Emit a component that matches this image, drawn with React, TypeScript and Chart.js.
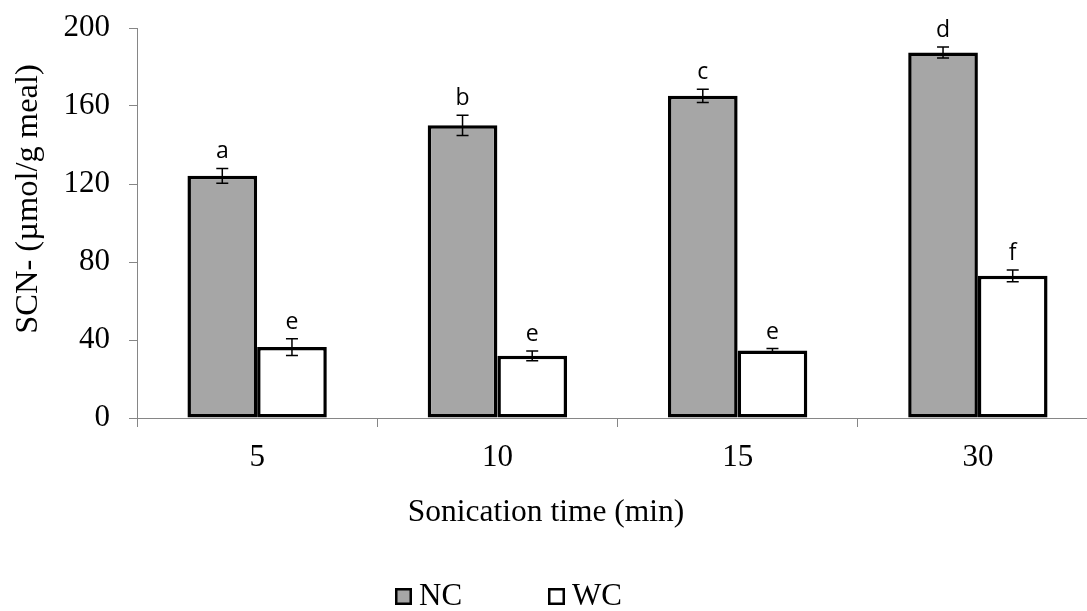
import React, { useEffect, useRef } from "react";
import { Chart, registerables } from "chart.js";

Chart.register(...registerables);

const categories = ["5", "10", "15", "30"];
const ncValues = [124.2, 150.1, 165.2, 187.4];
const ncErrors = [3.8, 5.2, 3.4, 2.8];
const wcValues = [36.4, 31.9, 34.6, 72.9];
const wcErrors = [4.3, 2.5, 1.0, 3.0];
const ncLetters = ["a", "b", "c", "d"];
const wcLetters = ["e", "e", "e", "f"];
const yTicks = [0, 40, 80, 120, 160, 200];
const seriesNames = ["NC", "WC"];

const SERIF = '"Liberation Serif", "Times New Roman", serif';
const SANS = '"Open Sans", "Noto Sans", sans-serif';
const GRAY = "#a6a6a6";
const AXIS = "#868686";

const errorSets = [ncErrors, wcErrors];
const letterSets = [ncLetters, wcLetters];

const overlay = {
  id: "overlay",
  afterDatasetsDraw(chart: any) {
    const ctx = chart.ctx;
    const ys = chart.scales.y;
    chart.data.datasets.forEach((ds: any, di: number) => {
      const meta = chart.getDatasetMeta(di);
      meta.data.forEach((bar: any, i: number) => {
        const v = ds.data[i];
        const e = errorSets[di][i];
        const x = bar.x;
        const yt = ys.getPixelForValue(v + e);
        const yb = ys.getPixelForValue(v - e);
        ctx.save();
        ctx.strokeStyle = "#000";
        ctx.lineWidth = 1.5;
        ctx.beginPath();
        ctx.moveTo(x, yt);
        ctx.lineTo(x, yb);
        ctx.moveTo(x - 6, yt);
        ctx.lineTo(x + 6, yt);
        ctx.moveTo(x - 6, yb);
        ctx.lineTo(x + 6, yb);
        ctx.stroke();
        ctx.fillStyle = "#000";
        ctx.font = `23px ${SANS}`;
        ctx.textAlign = "center";
        ctx.textBaseline = "alphabetic";
        ctx.fillText(letterSets[di][i], x, yt - 10);
        ctx.restore();
      });
    });
  },
  afterDraw(chart: any) {
    const ctx = chart.ctx;
    ctx.save();
    ctx.fillStyle = "#000";
    // y axis title
    ctx.save();
    ctx.font = `32.5px ${SERIF}`;
    ctx.translate(28, 199);
    ctx.rotate(-Math.PI / 2);
    ctx.textAlign = "center";
    ctx.textBaseline = "middle";
    ctx.fillText("SCN- (µmol/g meal)", 0, 0);
    ctx.restore();
    // x axis title
    ctx.font = `31.5px ${SERIF}`;
    ctx.textAlign = "center";
    ctx.textBaseline = "alphabetic";
    ctx.fillText("Sonication time (min)", 546, 521);
    // legend
    ctx.font = `31px ${SERIF}`;
    const boxes = [395, 548];
    const fills = [GRAY, "#ffffff"];
    boxes.forEach((bx, k) => {
      ctx.fillStyle = fills[k];
      ctx.fillRect(bx + 1, 589, 15, 15);
      ctx.strokeStyle = "#000";
      ctx.lineWidth = 2.5;
      ctx.strokeRect(bx + 1.25, 589.25, 14.5, 14.5);
      ctx.fillStyle = "#000";
      ctx.textAlign = "left";
      ctx.fillText(seriesNames[k], bx + 24, 605);
    });
    ctx.restore();
  },
};

export default function App() {
  const ref = useRef<HTMLCanvasElement | null>(null);
  useEffect(() => {
    if (!ref.current) return;
    const chart = new Chart(ref.current, {
      type: "bar",
      data: {
        labels: categories,
        datasets: [
          {
            label: seriesNames[0],
            data: ncValues,
            backgroundColor: GRAY,
            borderColor: "#000",
            borderWidth: 3.5,
            borderSkipped: false,
          },
          {
            label: seriesNames[1],
            data: wcValues,
            backgroundColor: "#ffffff",
            borderColor: "#000",
            borderWidth: 3.5,
            borderSkipped: false,
          },
        ],
      },
      options: {
        responsive: false,
        animation: false,
        devicePixelRatio: 1,
        layout: { padding: { top: 28, right: 2, left: 0, bottom: 0 } },
        datasets: {
          bar: { categoryPercentage: 0.58, barPercentage: 1.0 },
        },
        plugins: {
          legend: { display: false },
          tooltip: { enabled: false },
        },
        scales: {
          x: {
            grid: {
              offset: true,
              drawOnChartArea: false,
              drawTicks: true,
              tickLength: 9,
              color: AXIS,
            },
            border: { color: AXIS, width: 1 },
            ticks: {
              color: "#000",
              font: { family: SERIF, size: 31 },
              padding: 12,
            },
            afterFit: (s: any) => {
              s.height = 193;
              s.paddingLeft = 0;
              s.paddingRight = 0;
            },
          },
          y: {
            min: 0,
            max: 200,
            afterBuildTicks: (s: any) => {
              s.ticks = yTicks.map((v) => ({ value: v }));
            },
            grid: {
              drawOnChartArea: false,
              drawTicks: true,
              tickLength: 8,
              color: AXIS,
            },
            border: { color: AXIS, width: 1 },
            ticks: {
              color: "#000",
              font: { family: SERIF, size: 31 },
              padding: 19,
            },
            afterFit: (s: any) => {
              s.width = 137;
              s.paddingTop = 0;
              s.paddingBottom = 0;
            },
          },
        },
      },
      plugins: [overlay],
    });
    return () => chart.destroy();
  }, []);
  return (
    <div
      style={{
        position: "fixed",
        left: 0,
        top: 0,
        width: 1087,
        height: 611,
        overflow: "hidden",
        background: "#fff",
      }}
    >
      <canvas ref={ref} width={1100} height={611} style={{ display: "block" }} />
    </div>
  );
}
